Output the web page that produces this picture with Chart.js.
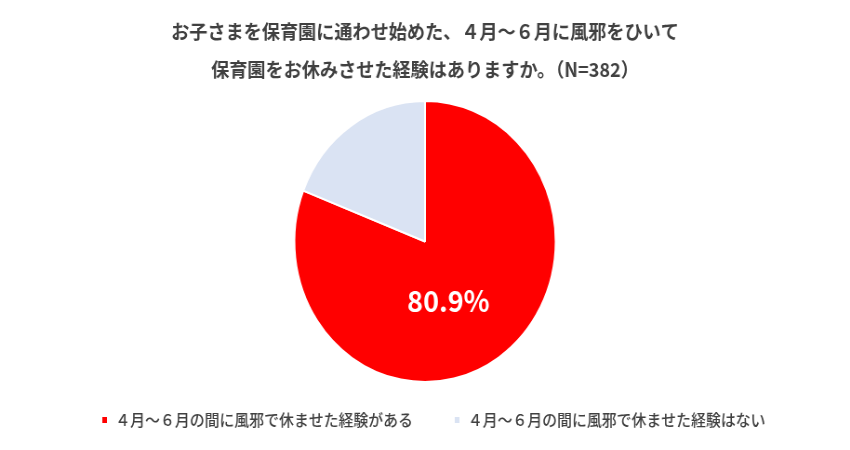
<!DOCTYPE html>
<html><head><meta charset="utf-8">
<script src="https://cdn.jsdelivr.net/npm/chart.js@4.4.1/dist/chart.umd.min.js"></script>
<style>
html,body{margin:0;padding:0;background:#fff;overflow:hidden;width:850px;height:450px}
#wrap{position:absolute;left:0;top:0;width:914px;height:450px;transform:scaleX(0.93);transform-origin:0 0}
</style></head><body>
<div id="wrap"><canvas id="c"></canvas></div>
<script>
const titleLines = ['お子さまを保育園に通わせ始めた、４月～６月に風邪をひいて', '保育園をお休みさせた経験はありますか。（N=382）'];
const categories = ['４月～６月の間に風邪で休ませた経験がある', '４月～６月の間に風邪で休ませた経験はない'];
const values = [80.9, 19.1];
const valueLabels = ['80.9%', ''];
const sliceColors = ['#FF0000', '#DAE3F3'];

const FONT = '"Noto Sans CJK JP", "Noto Sans", sans-serif';
const TEXT_COLOR = '#404040';

const sliceLabelPlugin = {
  id: 'sliceLabels',
  afterDatasetsDraw(chart) {
    const ctx = chart.ctx;
    const meta = chart.getDatasetMeta(0);
    meta.data.forEach((arc, i) => {
      const txt = valueLabels[i];
      if (!txt) return;
      const p = arc.getProps(['x', 'y', 'startAngle', 'endAngle', 'outerRadius'], true);
      const mid = (p.startAngle + p.endAngle) / 2 + 0.2;
      const r = p.outerRadius * 0.46;
      ctx.save();
      ctx.fillStyle = '#FFFFFF';
      ctx.font = 'bold 29px ' + FONT;
      ctx.textAlign = 'center';
      ctx.textBaseline = 'middle';
      ctx.fillText(txt, p.x + Math.cos(mid) * r, p.y + Math.sin(mid) * r);
      ctx.restore();
    });
  }
};

const legendShiftPlugin = {
  id: 'legendShift',
  afterLayout(chart) {
    const lg = chart.legend;
    if (lg) { lg.left += 9; lg.right += 9; }
  }
};

new Chart(document.getElementById('c'), {
  type: 'pie',
  data: {
    labels: categories,
    datasets: [{
      data: values,
      backgroundColor: sliceColors,
      borderColor: '#FFFFFF',
      borderWidth: 2
    }]
  },
  options: {
    responsive: true,
    maintainAspectRatio: false,
    animation: false,
    events: [],
    layout: { padding: { top: 0, bottom: 12, left: 0, right: 0 } },
    plugins: {
      tooltip: { enabled: false },
      title: {
        display: true,
        text: titleLines,
        color: TEXT_COLOR,
        font: { family: FONT, size: 19.5, weight: 'bold', lineHeight: 1.95 },
        padding: { top: 13, bottom: 11 }
      },
      legend: {
        display: true,
        position: 'bottom',
        title: { display: true, text: '', font: { size: 10, lineHeight: 1 }, padding: { top: -25, bottom: 0 } },
        labels: {
          boxWidth: 7,
          boxHeight: 8,
          padding: 44,
          color: TEXT_COLOR,
          font: { family: FONT, size: 16, weight: '500' }
        }
      }
    }
  },
  plugins: [sliceLabelPlugin, legendShiftPlugin]
});
</script>
</body></html>
